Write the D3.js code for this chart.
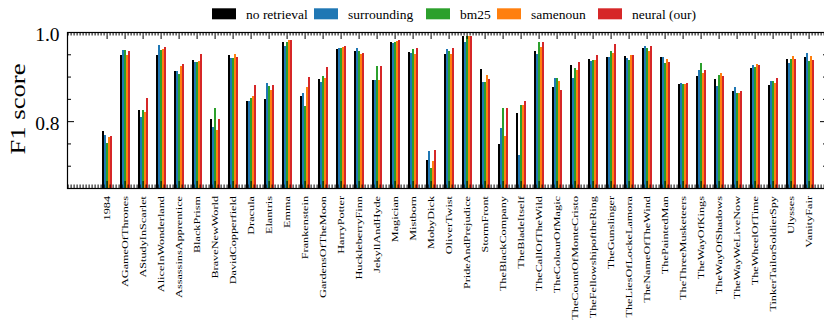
<!DOCTYPE html>
<html>
<head>
<meta charset="utf-8">
<script src="https://cdn.jsdelivr.net/npm/d3@7"></script>
<style>
  html, body { margin: 0; padding: 0; background: #fff; }
  svg { display: block; }
  svg text { font-family: "Liberation Serif", "Times New Roman", serif !important; fill: #000; }
</style>
</head>
<body>
<svg id="chart" width="824" height="327"></svg>
<script>
// ---- data ----
const categories = ["1984","AGameOfThrones","AStudyInScarlet","AliceInWonderland","AssassinsApprentice",
  "BlackPrism","BraveNewWorld","DavidCopperfield","Dracula","Elantris","Emma","Frankenstein",
  "GardensOfTheMoon","HarryPotter","HuckleberryFinn","JekyllAndHyde","Magician","Mistborn","MobyDick",
  "OliverTwist","PrideAndPrejudice","StormFront","TheBlackCompany","TheBladeItself","TheCallOfTheWild",
  "TheColourOfMagic","TheCountOfMonteCristo","TheFellowshipoftheRing","TheGunslinger",
  "TheLiesOfLockeLamora","TheNameOfTheWind","ThePaintedMan","TheThreeMusketeers","TheWayOfKings",
  "TheWayOfShadows","TheWayWeLiveNow","TheWheelOfTime","TinkerTailorSoldierSpy","Ulysses","VanityFair"];

const seriesNames = ["no retrieval", "surrounding", "bm25", "samenoun", "neural (our)"];
const seriesColors = ["#000000", "#1f77b4", "#2ca02c", "#ff7f0e", "#d62728"];

const noRetrieval = [0.778,0.948,0.825,0.948,0.912,0.937,0.805,0.948,0.845,0.850,0.977,0.856,0.894,0.962,
  0.957,0.892,0.977,0.955,0.713,0.950,0.991,0.917,0.749,0.818,0.957,0.876,0.926,0.939,0.944,0.946,
  0.964,0.944,0.883,0.901,0.894,0.867,0.919,0.881,0.939,0.944];
const surrounding = [0.769,0.959,0.809,0.971,0.912,0.933,0.787,0.941,0.845,0.885,0.968,0.863,0.888,0.964,
  0.964,0.892,0.975,0.953,0.733,0.962,0.978,0.888,0.785,0.724,0.950,0.897,0.897,0.935,0.944,0.941,
  0.968,0.944,0.885,0.915,0.879,0.876,0.926,0.890,0.930,0.953];
const bm25 = [0.751,0.959,0.825,0.959,0.906,0.933,0.829,0.941,0.852,0.879,0.977,0.834,0.901,0.964,
  0.957,0.924,0.977,0.962,0.695,0.957,0.991,0.888,0.829,0.836,0.977,0.897,0.919,0.937,0.957,0.937,
  0.964,0.930,0.883,0.930,0.903,0.863,0.921,0.890,0.939,0.935];
const samenoun = [0.764,0.948,0.821,0.962,0.924,0.935,0.780,0.950,0.856,0.870,0.982,0.876,0.897,0.966,
  0.950,0.892,0.980,0.950,0.711,0.950,0.991,0.903,0.767,0.836,0.966,0.890,0.915,0.937,0.953,0.948,
  0.957,0.939,0.883,0.908,0.908,0.863,0.928,0.885,0.946,0.946];
const neural = [0.767,0.957,0.852,0.966,0.928,0.950,0.805,0.944,0.881,0.881,0.982,0.899,0.921,0.968,
  0.953,0.924,0.982,0.964,0.735,0.964,0.991,0.894,0.829,0.845,0.977,0.870,0.933,0.948,0.973,0.948,
  0.968,0.933,0.885,0.915,0.901,0.867,0.926,0.897,0.939,0.937];

const yMajorTicks = [0.8, 1.0];
const yMinorTicks = [0.7, 0.75, 0.85, 0.9, 0.95];

// ---- layout ----
const FONT = "Liberation Serif";
const seriesValues = [noRetrieval, surrounding, bm25, samenoun, neural];
const plot = { left: 67, right: 827, top: 32, bottom: 188 };
const svg = d3.select("#chart");
svg.append("rect").attr("width", 824).attr("height", 327).attr("fill", "#fff");

const x = d3.scalePoint().domain(categories).range([106.6, 106.6 + 18 * (categories.length - 1)]);
const xIdx = d3.scaleLinear().domain([0, categories.length - 1]).range(x.range());
const x1 = d3.scaleBand().domain(seriesNames).range([-5, 5]).padding(0);
const y = d3.scaleLinear().domain([0.65, 1.0]).range([plot.bottom, plot.top]);

// bars
const rows = categories.map((c, i) => ({ cat: c, vals: seriesValues.map(s => s[i]) }));
const groups = svg.append("g").selectAll("g").data(rows).join("g")
  .attr("transform", d => `translate(${x(d.cat)},0)`);
groups.selectAll("rect").data(d => d.vals.map((v, j) => ({ v, j })))
  .join("rect")
  .attr("x", d => x1(seriesNames[d.j]))
  .attr("width", x1.bandwidth())
  .attr("y", d => y(d.v))
  .attr("height", d => plot.bottom - y(d.v))
  .attr("fill", d => seriesColors[d.j])
  .attr("shape-rendering", "crispEdges");

// minor x ticks (every 1/6 of a category)
const lo = Math.ceil(xIdx.invert(plot.left) * 6), hi = Math.floor(xIdx.invert(plot.right) * 6);
const xMinor = d3.range(lo, hi + 1).filter(k => k % 6 !== 0 || k < 0 || k / 6 > categories.length - 1).map(k => k / 6);

function clean(g) { g.select(".domain").remove(); g.selectAll(".tick line").attr("stroke", "#000"); g.attr("font-family", FONT); }

svg.append("g").attr("transform", `translate(0,${plot.bottom})`)
  .call(d3.axisBottom(xIdx).tickValues(xMinor).tickSize(-3.5).tickSizeOuter(0).tickFormat(""))
  .call(clean);
svg.append("g").attr("transform", `translate(0,${plot.top})`)
  .call(d3.axisTop(xIdx).tickValues(xMinor).tickSize(-3.5).tickSizeOuter(0).tickFormat(""))
  .call(clean);
svg.append("g").attr("transform", `translate(0,${plot.top})`)
  .call(d3.axisTop(x).tickSize(-7).tickSizeOuter(0).tickFormat(""))
  .call(clean);

// bottom major ticks with rotated labels
const xAxisG = svg.append("g").attr("transform", `translate(0,${plot.bottom})`)
  .call(d3.axisBottom(x).tickSize(-7).tickSizeOuter(0))
  .call(clean);
xAxisG.selectAll(".tick text")
  .attr("x", null).attr("y", null).attr("dy", null)
  .attr("text-anchor", "end")
  .attr("font-size", 9)
  .attr("transform", "translate(2.4,8) scale(1,1.36) rotate(-90)");

// y axes
svg.append("g").attr("transform", `translate(${plot.left},0)`)
  .call(d3.axisLeft(y).tickValues(yMinorTicks).tickSize(-4).tickSizeOuter(0).tickFormat(""))
  .call(clean);
const yAxisG = svg.append("g").attr("transform", `translate(${plot.left},0)`)
  .call(d3.axisLeft(y).tickValues(yMajorTicks).tickSize(-7).tickSizeOuter(0).tickPadding(7.5).tickFormat(d3.format(".1f")))
  .call(clean);
yAxisG.selectAll(".tick text")
  .attr("dy", null).attr("y", 8.5)
  .attr("font-size", 19.5);
svg.append("g").attr("transform", `translate(${plot.right},0)`)
  .call(d3.axisRight(y).tickValues(yMinorTicks).tickSize(-4).tickSizeOuter(0).tickFormat(""))
  .call(clean);
svg.append("g").attr("transform", `translate(${plot.right},0)`)
  .call(d3.axisRight(y).tickValues(yMajorTicks).tickSize(-7).tickSizeOuter(0).tickFormat(""))
  .call(clean);

// frame
svg.append("rect")
  .attr("x", plot.left + 0.5).attr("y", plot.top + 0.5)
  .attr("width", plot.right - plot.left).attr("height", plot.bottom - plot.top)
  .attr("fill", "none").attr("stroke", "#000").attr("stroke-width", 1.2);

// y label
svg.append("text")
  .attr("transform", "translate(25,109) rotate(-90)")
  .attr("text-anchor", "middle")
  .attr("font-family", FONT)
  .attr("font-size", 20)
  .attr("textLength", 91)
  .attr("lengthAdjust", "spacingAndGlyphs")
  .text("F1 score");

// legend
const legendX = [212, 314, 426, 497, 598];
const leg = svg.append("g").attr("font-family", FONT).selectAll("g").data(seriesNames).join("g")
  .attr("transform", (d, i) => `translate(${legendX[i]},0)`);
leg.append("rect").attr("x", 0).attr("y", 8.3).attr("width", 24).attr("height", 11)
  .attr("fill", (d, i) => seriesColors[i]);
leg.append("text").attr("x", 34).attr("y", 19.3)
  .attr("font-family", FONT).attr("font-size", 13.5).text(d => d);
</script>
</body>
</html>
